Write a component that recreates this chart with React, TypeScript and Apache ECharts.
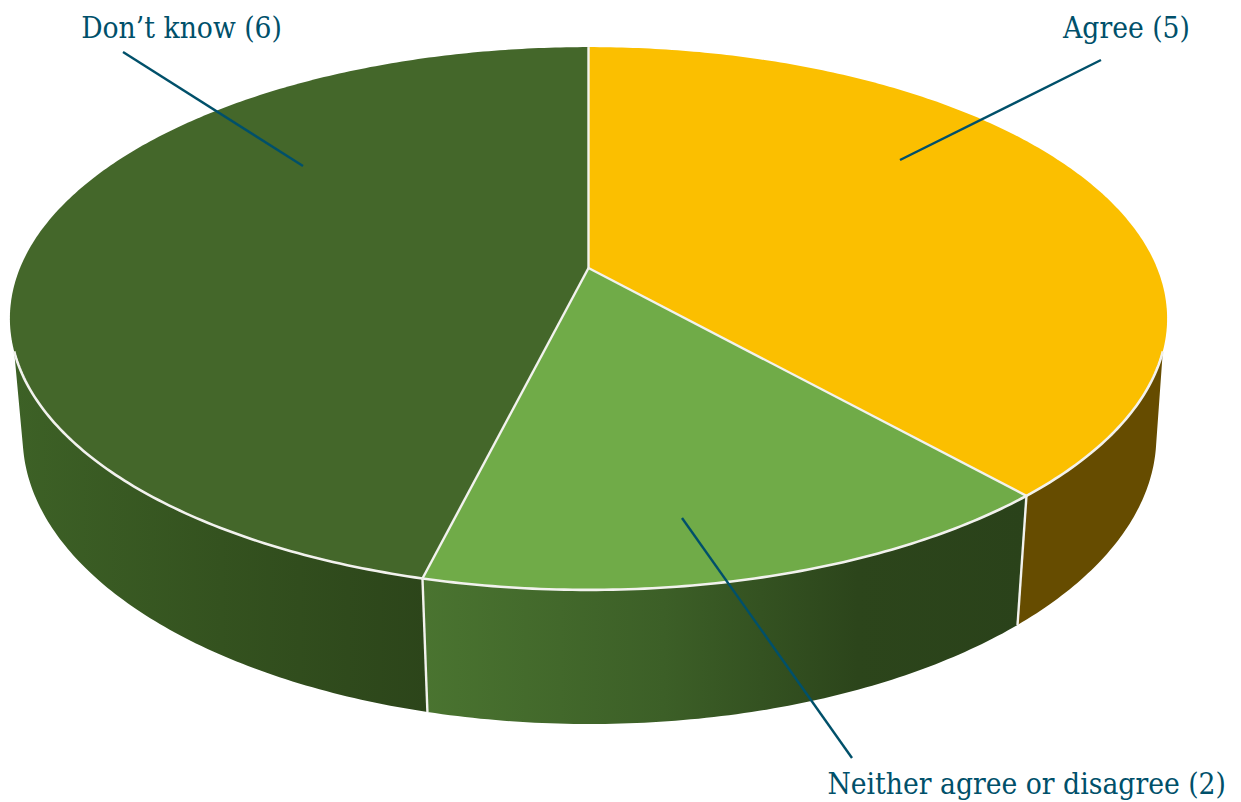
import React, { useEffect, useRef } from "react";
import * as echarts from "echarts";

const categories = ["Agree", "Neither agree or disagree", "Don’t know"];
const values = [5, 2, 6];
const topColors = ["#fbbf00", "#70ab48", "#44672a"];
const sideStops: [number, string][][] = [
  [[0, "#664c00"], [1, "#664c00"]],
  [[0, "#4a7430"], [0.4, "#3c5f27"], [0.72, "#2c451b"], [1, "#2a421a"]],
  [[0, "#3d6126"], [0.5, "#34521f"], [1, "#2c451a"]],
];

// Projection of the disc: perspective camera fitted to the picture.
const CX = 588.5, CY = 268, A = 568.5, B = 262, P = 0.186;
const Q = 0.02, DEPTH = 118.3, SHIFT = 1;
const VISIBLE_FROM = 107.5, VISIBLE_TO = 252.5;
const BOTTOM_FROM = 103, BOTTOM_TO = 257;
const TEXT = "#00506a";

// Label placement: text anchor and leader line ends, per category.
const labelLayout = [
  { x: 1190, y: 28, line: [1101, 60, 900, 160] },
  { x: 1226, y: 784, line: [852, 758, 682, 518] },
  { x: 282, y: 28, line: [123, 52, 303, 166] },
];
const TEXT_SCALE = 0.89;

const total = values.reduce((s, v) => s + v, 0);
const startOf = (i: number) =>
  (values.slice(0, i).reduce((s, v) => s + v, 0) / total) * 360;

function project(deg: number, r: number, h: number): [number, number] {
  const t = (deg * Math.PI) / 180;
  const u = Math.sin(t) * r, v = Math.cos(t) * r;
  const w = 1 + P * v + Q * h;
  return [CX + SHIFT * h + (A * u) / w, CY - (B * v - DEPTH * h) / w];
}
function arc(a: number, b: number, h: number) {
  const pts: [number, number][] = [];
  const n = Math.max(2, Math.ceil(Math.abs(b - a) * 1.5));
  for (let k = 0; k <= n; k++) pts.push(project(a + ((b - a) * k) / n, 1, h));
  return pts;
}

const whiteLine = (points: [number, number][], lineWidth = 2) => ({
  type: "polyline",
  shape: { points },
  style: { stroke: "#f2f2ee", lineWidth, fill: "none" },
  silent: true,
});

function renderSide(params: any, api: any) {
  const i = params.dataIndex;
  const a = startOf(i);
  const b = a + (api.value(0) / total) * 360;
  const from = Math.max(a, VISIBLE_FROM), to = Math.min(b, VISIBLE_TO);
  if (to <= from) return { type: "group", children: [] };
  const bottomFrom = a >= VISIBLE_FROM ? a : Math.max(a, BOTTOM_FROM);
  const bottomTo = b <= VISIBLE_TO ? b : Math.min(b, BOTTOM_TO);
  const points = [...arc(from, to, 0), ...arc(bottomTo, bottomFrom, 1)];
  const children: any[] = [
    {
      type: "polygon",
      shape: { points },
      style: { fill: new echarts.graphic.LinearGradient(0, 0, 1, 0, sideStops[i].map(([offset, color]) => ({ offset, color }))) },
    },
  ];
  if (a >= VISIBLE_FROM) children.push(whiteLine([project(a, 1, 0), project(a, 1, 1)], 2.4));
  return { type: "group", children };
}

function renderTop(params: any, api: any) {
  const i = params.dataIndex;
  const a = startOf(i);
  const b = a + (api.value(0) / total) * 360;
  return {
    type: "polygon",
    shape: { points: [[CX, CY], ...arc(a, b, 0)] },
    style: { fill: topColors[i] },
  };
}

function renderEdges(params: any) {
  const a = startOf(params.dataIndex);
  return whiteLine([[CX, CY], project(a, 1, 0)], 2.4);
}

function renderRim(params: any, api: any) {
  const i = params.dataIndex;
  const a = startOf(i);
  const b = a + (api.value(0) / total) * 360;
  const from = Math.max(a, VISIBLE_FROM), to = Math.min(b, VISIBLE_TO);
  if (to <= from) return { type: "group", children: [] };
  return whiteLine(arc(from, to, 0), 2.6);
}

function renderLabel(params: any, api: any) {
  const i = params.dataIndex;
  const l = labelLayout[i];
  return {
    type: "group",
    children: [
      {
        type: "line",
        shape: { x1: l.line[0], y1: l.line[1], x2: l.line[2], y2: l.line[3] },
        style: { stroke: TEXT, lineWidth: 2.4 },
      },
      {
        type: "text",
        x: l.x,
        y: l.y,
        scaleX: TEXT_SCALE,
        style: {
          text: `${categories[i]} (${api.value(0)})`,
          fill: TEXT,
          font: '400 30px "DejaVu Serif"',
          textAlign: "right",
          textVerticalAlign: "middle",
        },
      },
    ],
  };
}

export default function App() {
  const ref = useRef<HTMLDivElement>(null);
  useEffect(() => {
    document.body.style.margin = "0";
    const chart = echarts.init(ref.current!, null, { renderer: "svg" });
    const data = values.map((v) => [v]);
    const layer = (name: string, renderItem: any, z: number) => ({
      type: "custom",
      name,
      coordinateSystem: "none",
      renderItem,
      data,
      z,
      silent: true,
      clip: false,
    });
    chart.setOption({
      animation: false,
      backgroundColor: "#ffffff",
      series: [
        layer("side", renderSide, 1),
        layer("top", renderTop, 2),
        layer("rim", renderRim, 3),
        layer("edges", renderEdges, 3),
        layer("labels", renderLabel, 4),
      ],
    });
    return () => chart.dispose();
  }, []);
  return <div ref={ref} style={{ width: 1241, height: 802 }} />;
}
